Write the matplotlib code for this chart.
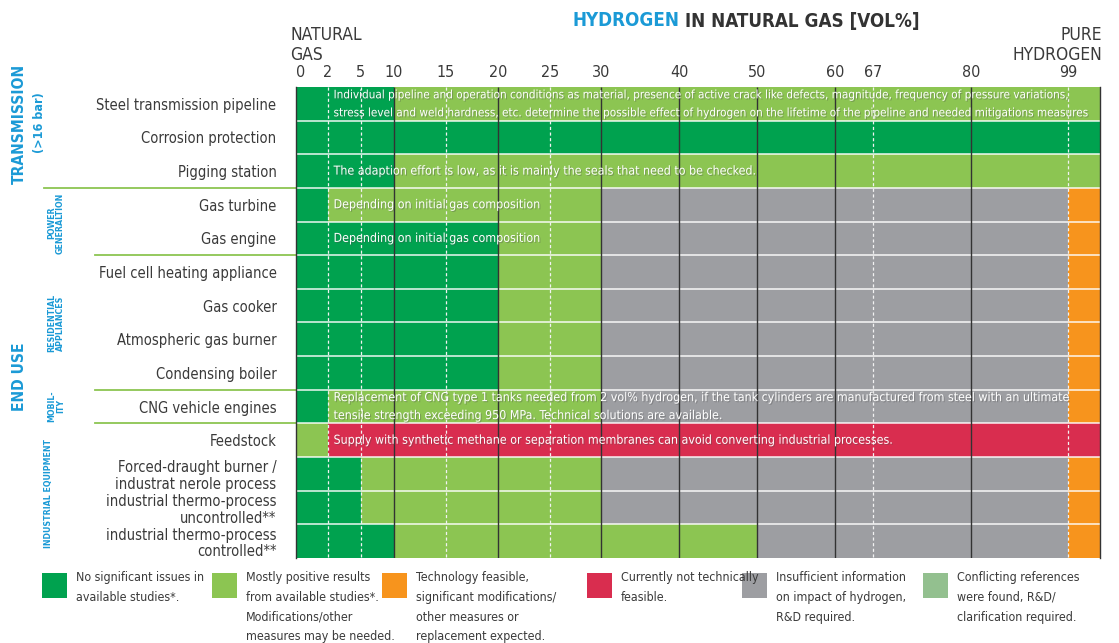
import numpy as np
import matplotlib
matplotlib.use("Agg")
import matplotlib.pyplot as plt
import matplotlib.patheffects as pe
from matplotlib.patches import Rectangle

W, H = 1119, 643
plt.rcParams['font.family'] = ['DejaVu Sans']
plt.rcParams['font.stretch'] = 'condensed'

BLUE = '#1b9ad6'
TXT = '#3a3a3a'
colours = {
    'ok': '#00a24f',     # no significant issues
    'pos': '#8cc552',    # mostly positive
    'mod': '#f7941d',    # feasible, modifications
    'no': '#d92d4f',     # not feasible
    'info': '#9d9ea2',   # insufficient information
    'conf': '#93c08f',   # conflicting references
}

# hydrogen share (vol%) columns and how wide each one is drawn in the original
tick_vals = [0, 2, 5, 10, 15, 20, 25, 30, 40, 50, 60, 67, 80, 99, 100]
tick_pos = [0, 32, 65, 98, 150, 202, 254, 305, 383, 461, 539, 577, 675, 772, 804]
solid_lines = [10, 20, 30, 40, 50, 60, 80]
dashed_lines = [2, 5, 15, 25, 67, 99]

rows = [
    "Steel transmission pipeline",
    "Corrosion protection",
    "Pigging station",
    "Gas turbine",
    "Gas engine",
    "Fuel cell heating appliance",
    "Gas cooker",
    "Atmospheric gas burner",
    "Condensing boiler",
    "CNG vehicle engines",
    "Feedstock",
    "Forced-draught burner /\nindustrat nerole process",
    "industrial thermo-process\nuncontrolled**",
    "industrial thermo-process\ncontrolled**",
]

row_breaks = [
    [0, 10, 100],
    [0, 100],
    [0, 10, 100],
    [0, 2, 30, 99, 100],
    [0, 20, 30, 99, 100],
    [0, 20, 30, 99, 100],
    [0, 20, 30, 99, 100],
    [0, 20, 30, 99, 100],
    [0, 20, 30, 99, 100],
    [0, 2, 30, 99, 100],
    [0, 2, 100],
    [0, 5, 30, 99, 100],
    [0, 5, 30, 99, 100],
    [0, 10, 50, 99, 100],
]
row_status = [
    ['ok', 'pos'],
    ['ok'],
    ['ok', 'pos'],
    ['ok', 'pos', 'info', 'mod'],
    ['ok', 'pos', 'info', 'mod'],
    ['ok', 'pos', 'info', 'mod'],
    ['ok', 'pos', 'info', 'mod'],
    ['ok', 'pos', 'info', 'mod'],
    ['ok', 'pos', 'info', 'mod'],
    ['ok', 'pos', 'info', 'mod'],
    ['pos', 'no'],
    ['ok', 'pos', 'info', 'mod'],
    ['ok', 'pos', 'info', 'mod'],
    ['ok', 'pos', 'info', 'mod'],
]

note_rows = [0, 2, 3, 4, 9, 10]
note_text = [
    "Individual pipeline and operation conditions as material, presence of active crack like defects, magnitude, frequency of pressure variations,\n"
    "stress level and weld hardness, etc. determine the possible effect of hydrogen on the lifetime of the pipeline and needed mitigations measures",
    "The adaption effort is low, as it is mainly the seals that need to be checked.",
    "Depending on initial gas composition",
    "Depending on initial gas composition",
    "Replacement of CNG type 1 tanks needed from 2 vol% hydrogen, if the tank cylinders are manufactured from steel with an ultimate\n"
    "tensile strength exceeding 950 MPa. Technical solutions are available.",
    "Supply with synthetic methane or separation membranes can avoid converting industrial processes.",
]

legend_status = ['ok', 'pos', 'mod', 'no', 'info', 'conf']
legend_text = [
    "No significant issues in\navailable studies*.",
    "Mostly positive results\nfrom available studies*.\nModifications/other\nmeasures may be needed.",
    "Technology feasible,\nsignificant modifications/\nother measures or\nreplacement expected.",
    "Currently not technically\nfeasible.",
    "Insufficient information\non impact of hydrogen,\nR&D required.",
    "Conflicting references\nwere found, R&D/\nclarification required.",
]


def fx(px):
    return px / W


def fy(py):
    return 1 - py / H


fig = plt.figure(figsize=(W / 100, H / 100), dpi=100)
ax = fig.add_axes([fx(296), fy(558), 804 / W, 471 / H])

fwd = lambda v: np.interp(v, tick_vals, tick_pos)
inv = lambda p: np.interp(p, tick_pos, tick_vals)
ax.set_xscale('function', functions=(fwd, inv))

for i, (br, st) in enumerate(zip(row_breaks, row_status)):
    for a, b, s in zip(br[:-1], br[1:], st):
        ax.barh(i, b - a, left=a, height=1, color=colours[s], linewidth=0)

ax.set_xlim(0, 100)
ax.set_ylim(len(rows) - 0.5, -0.5)

ax.hlines(np.arange(len(rows) - 1) + 0.5, 0, 100, color='white', lw=1.2, alpha=0.85)
ax.vlines(solid_lines, -0.5, len(rows) - 0.5, color='#333333', lw=1)
ax.vlines(dashed_lines, -0.5, len(rows) - 0.5, color='#f2f2f2', lw=0.9,
          linestyles=(0, (2.5, 2)))

for s in ['top', 'bottom']:
    ax.spines[s].set_visible(False)
for s in ['left', 'right']:
    ax.spines[s].set_color('#333333')
    ax.spines[s].set_linewidth(1)

ax.set_yticks(range(len(rows)))
ax.set_yticklabels(rows, fontsize=10.5, color=TXT, linespacing=1.15)
ax.tick_params(axis='y', length=0, pad=14)

ax.xaxis.tick_top()
ax.set_xticks(tick_vals[:-1])
ax.set_xticklabels([str(v) for v in tick_vals[:-1]], fontsize=11.5, color=TXT)
ax.tick_params(axis='x', length=0, pad=5)
ax.get_xticklabels()[0].set_ha('left')

shadow = [pe.SimplePatchShadow(offset=(0.8, -0.8), alpha=0.35), pe.Normal()]
notes = []
for r, t in zip(note_rows, note_text):
    notes.append(ax.annotate(t, xy=(2, r), xytext=(4, 0), textcoords='offset points',
                             ha='left', va='center', color='white', fontsize=8.9,
                             linespacing=1.5, path_effects=shadow))

# shrink a note that would run past the right edge of the grid
fig.canvas.draw()
rend = fig.canvas.get_renderer()
right = ax.get_window_extent(rend).x1 - 9
for n in notes:
    ext = n.get_window_extent(rend)
    if ext.x1 > right:
        n.set_fontsize(n.get_fontsize() * (right - ext.x0) / ext.width)

# group separators reaching into the label column
ytr = ax.get_yaxis_transform()
for yb, x0 in [(2.5, 44), (4.5, 95), (8.5, 95), (9.5, 95)]:
    ax.plot([(x0 - 296) / 804, 0], [yb, yb], color=colours['pos'], lw=1.3,
            transform=ytr, clip_on=False)

# group labels
fig.text(fx(19), fy(124), "TRANSMISSION", rotation=90, ha='center', va='center',
         color=BLUE, fontsize=11.2, fontweight='bold')
fig.text(fx(39), fy(123), "(>16 bar)", rotation=90, ha='center', va='center',
         color=BLUE, fontsize=9, fontweight='bold')
fig.text(fx(19), fy(377), "END USE", rotation=90, ha='center', va='center',
         color=BLUE, fontsize=11.2, fontweight='bold')
for txt, xx, yy in [("POWER\nGENERALTION", 56, 223), ("RESIDENTIAL\nAPPLIANCES", 56, 323),
                    ("MOBIL-\nITY", 56, 406), ("INDUSTRIAL EQUIPMENT", 49, 494)]:
    fig.text(fx(xx), fy(yy), txt, rotation=90, ha='center', va='center',
             color=BLUE, fontsize=6.3, fontweight='bold', linespacing=1.0)

fig.text(fx(290), fy(45), "NATURAL\nGAS", ha='left', va='center', color=TXT,
         fontsize=12.5, linespacing=1.1)
fig.text(fx(1102), fy(45), "PURE\nHYDROGEN", ha='right', va='center', color=TXT,
         fontsize=12.5, linespacing=1.1, multialignment='right')

# title in two colours
t1 = fig.text(fx(573), fy(21), "HYDROGEN", ha='left', va='center', color=BLUE,
              fontsize=13.5, fontweight='bold')
bb = t1.get_window_extent(rend)
fig.text(bb.x1 / W + fx(5), fy(21), "IN NATURAL GAS [VOL%]", ha='left', va='center',
         color='#333333', fontsize=13.5, fontweight='bold')

# legend
leg_x = [42, 212, 382, 587, 742, 923]
for xx, s, t in zip(leg_x, legend_status, legend_text):
    fig.add_artist(Rectangle((fx(xx), fy(598)), 25 / W, 25 / H, transform=fig.transFigure,
                             facecolor=colours[s], edgecolor='none'))
    fig.text(fx(xx + 34), fy(571), t, ha='left', va='top', color=TXT,
             fontsize=8.9, linespacing=1.68)

fig.savefig("out.png", dpi=100)
